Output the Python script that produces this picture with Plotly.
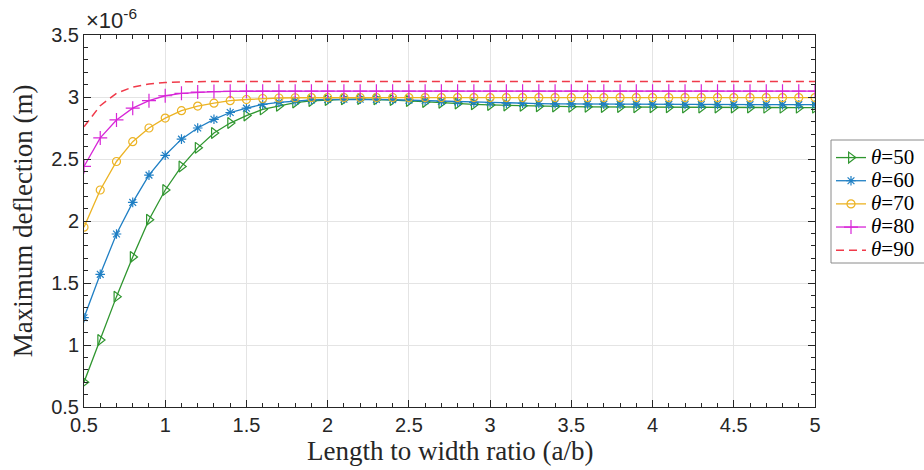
import plotly.graph_objects as go

# Length-to-width ratio a/b
ratio = [0.5, 0.6, 0.7, 0.8, 0.9, 1.0, 1.1, 1.2, 1.3, 1.4,
         1.5, 1.6, 1.7, 1.8, 1.9, 2.0, 2.1, 2.2, 2.3, 2.4,
         2.5, 2.6, 2.7, 2.8, 2.9, 3.0, 3.1, 3.2, 3.3, 3.4,
         3.5, 3.6, 3.7, 3.8, 3.9, 4.0, 4.1, 4.2, 4.3, 4.4,
         4.5, 4.6, 4.7, 4.8, 4.9, 5.0]

# Maximum deflection, in units of 1e-6 m
defl_50 = [0.70, 1.04, 1.39, 1.71, 2.01, 2.25, 2.44, 2.59, 2.71, 2.79,
           2.85, 2.90, 2.93, 2.955, 2.968, 2.976, 2.981, 2.983, 2.981, 2.976,
           2.968, 2.960, 2.953, 2.947, 2.941, 2.936, 2.932, 2.929, 2.926, 2.924,
           2.922, 2.921, 2.920, 2.919, 2.918, 2.917, 2.917, 2.916, 2.916, 2.915,
           2.915, 2.915, 2.914, 2.914, 2.914, 2.914]
defl_60 = [1.22, 1.57, 1.895, 2.15, 2.37, 2.53, 2.66, 2.75, 2.82, 2.875,
           2.91, 2.94, 2.957, 2.968, 2.976, 2.980, 2.982, 2.982, 2.981, 2.978,
           2.974, 2.970, 2.965, 2.961, 2.957, 2.954, 2.951, 2.949, 2.947, 2.945,
           2.944, 2.943, 2.942, 2.941, 2.941, 2.940, 2.940, 2.939, 2.939, 2.939,
           2.938, 2.938, 2.938, 2.938, 2.938, 2.938]
defl_70 = [1.95, 2.25, 2.48, 2.64, 2.75, 2.83, 2.89, 2.927, 2.95, 2.97,
           2.98, 2.988, 2.992, 2.994, 2.995, 2.996, 2.996, 2.996, 2.996, 2.996,
           2.995, 2.995, 2.995, 2.995, 2.995, 2.995, 2.995, 2.995, 2.995, 2.995,
           2.995, 2.995, 2.995, 2.995, 2.995, 2.995, 2.995, 2.995, 2.995, 2.995,
           2.995, 2.995, 2.995, 2.995, 2.995, 2.995]
defl_80 = [2.44, 2.67, 2.815, 2.91, 2.97, 3.01, 3.03, 3.04, 3.044, 3.046,
           3.047, 3.047, 3.047, 3.047, 3.047, 3.047, 3.047, 3.047, 3.047, 3.047,
           3.047, 3.047, 3.047, 3.047, 3.047, 3.047, 3.047, 3.047, 3.047, 3.047,
           3.047, 3.047, 3.047, 3.047, 3.047, 3.047, 3.047, 3.047, 3.047, 3.047,
           3.047, 3.047, 3.047, 3.047, 3.047, 3.047]
defl_90 = [2.76, 2.93, 3.03, 3.08, 3.105, 3.117, 3.122, 3.125, 3.126, 3.126,
           3.126, 3.126, 3.126, 3.126, 3.126, 3.126, 3.126, 3.126, 3.126, 3.126,
           3.126, 3.126, 3.126, 3.126, 3.126, 3.126, 3.126, 3.126, 3.126, 3.126,
           3.126, 3.126, 3.126, 3.126, 3.126, 3.126, 3.126, 3.126, 3.126, 3.126,
           3.126, 3.126, 3.126, 3.126, 3.126, 3.126]

angles = ["50", "60", "70", "80", "90"]
series = [defl_50, defl_60, defl_70, defl_80, defl_90]
colors = ["#2f962f", "#1f7fc4", "#ecb323", "#d726d7", "#f03a4a"]
symbols = ["triangle-right-open", "asterisk-open", "circle-open", "cross-thin-open", None]
msizes = [9.5, 8, 8, 10, 0]

SANS = "Liberation Sans"
SERIF = "Liberation Serif"

fig = go.Figure()
for ang, vals, col, sym, ms in zip(angles, series, colors, symbols, msizes):
    label = '<span style="font-size:21px"><i>θ</i>=' + ang + '</span>'
    if sym is None:
        fig.add_trace(go.Scatter(
            x=ratio, y=vals, mode="lines", name=label,
            line=dict(color=col, width=1.5, dash="8px,5px"),
        ))
    else:
        fig.add_trace(go.Scatter(
            x=ratio, y=vals, mode="lines+markers", name=label,
            line=dict(color=col, width=1.3),
            marker=dict(symbol=sym, size=ms, color=col,
                        line=dict(color=col, width=1.2)),
        ))

axis_common = dict(
    showline=True, linecolor="#262626", linewidth=1,
    mirror="ticks", ticks="inside", ticklen=7, tickcolor="#262626",
    showgrid=True, gridcolor="#e4e4e4", gridwidth=1, zeroline=False,
    tickfont=dict(family=SANS, size=20, color="#262626"),
)

fig.update_xaxes(
    range=[0.5, 5], dtick=0.5, tick0=0.5,
    minor=dict(dtick=0.1, ticks="inside", ticklen=4, tickcolor="#262626", showgrid=False),
    **axis_common,
)
fig.update_yaxes(
    range=[0.5, 3.5], dtick=0.5, tick0=0.5,
    minor=dict(dtick=0.1, ticks="inside", ticklen=4, tickcolor="#262626", showgrid=False),
    **axis_common,
)

# legend frame, running past the right edge of the page
frame_left = (831 - 84) / 731
frame_top = (407 - 140) / 372
frame_bottom = (407 - 263) / 372

fig.update_layout(
    width=924, height=470,
    margin=dict(l=84, r=109, t=35, b=63, autoexpand=False),
    paper_bgcolor="white", plot_bgcolor="white",
    showlegend=True,
    legend=dict(
        x=frame_left, y=(407 - 141) / 372,
        xanchor="left", yanchor="top",
        bgcolor="rgba(0,0,0,0)", borderwidth=0,
        font=dict(family=SERIF, size=15.5, color="black"),
        itemwidth=30,
    ),
    shapes=[
        dict(type="rect", xref="paper", yref="paper",
             x0=frame_left, x1=1.5, y0=frame_bottom, y1=frame_top,
             line=dict(color="#8a8a8a", width=1), fillcolor="white", layer="below"),
    ],
    annotations=[
        dict(text="Length to width ratio (a/b)", xref="paper", yref="paper",
             x=0.5, y=(407 - 451) / 372, xanchor="center", yanchor="middle",
             showarrow=False,
             font=dict(family=SERIF, size=27, color="#262626")),
        dict(text="Maximum deflection (m)", xref="paper", yref="paper",
             x=-0.083, y=0.5, xanchor="center", yanchor="middle", showarrow=False,
             textangle=-90,
             font=dict(family=SERIF, size=27, color="#262626")),
        dict(text="×10<sup>-6</sup>", xref="paper", yref="paper",
             x=0, y=1.0, xanchor="left", yanchor="bottom", showarrow=False,
             font=dict(family=SANS, size=22, color="#262626")),
    ],
)

fig.write_html("out.html")
